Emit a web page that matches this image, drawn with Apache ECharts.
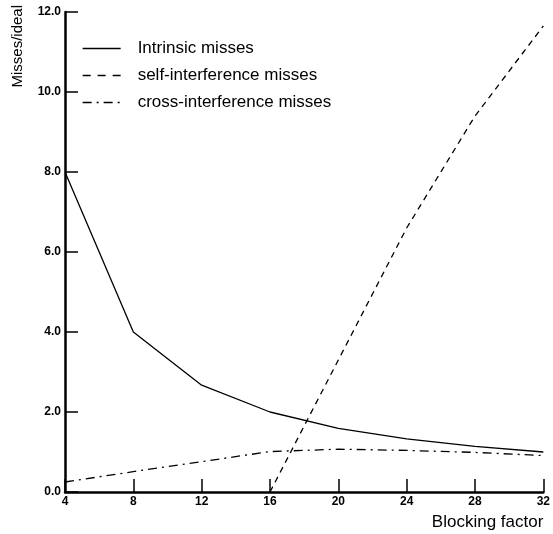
<!DOCTYPE html>
<html>
<head>
<meta charset="utf-8">
<script src="https://cdn.jsdelivr.net/npm/echarts@6/dist/echarts.min.js"></script>
<style>
  html, body { margin: 0; padding: 0; background: #fff; }
  #chart { width: 553px; height: 534px; }
</style>
</head>
<body>
<div id="chart"></div>
<script>
var blocking = [4, 8, 12, 16, 20, 24, 28, 32];
var intrinsic = [8.0, 4.0, 2.67, 2.0, 1.59, 1.33, 1.14, 1.0];
var selfInterf = [null, null, null, 0.0, 3.3, 6.6, 9.4, 11.65];
var crossInterf = [0.25, 0.51, 0.76, 1.01, 1.07, 1.04, 0.99, 0.91];

function pairs(xs, ys) {
    var out = [];
    for (var i = 0; i < xs.length; i++) {
        if (ys[i] !== null) out.push([xs[i], ys[i]]);
    }
    return out;
}

var font = 'Liberation Sans, Arial, sans-serif';

var option = {
    backgroundColor: '#fff',
    animation: false,
    textStyle: { fontFamily: font, color: '#000' },
    grid: { left: 65, right: 9, top: 12, bottom: 42 },
    legend: {
        left: 82,
        top: 40,
        padding: 0,
        orient: 'vertical',
        itemWidth: 38,
        itemHeight: 14,
        itemGap: 10,
        itemStyle: { opacity: 0 },
        lineStyle: { width: 1.3 },
        textStyle: { fontSize: 17, color: '#000', fontFamily: font, padding: [0, 0, 0, 12] },
        data: [
            'Intrinsic misses',
            { name: 'self-interference misses', lineStyle: { type: [8, 7], width: 1.3 } },
            'cross-interference misses'
        ]
    },
    xAxis: {
        type: 'value',
        min: 4,
        max: 32,
        interval: 4,
        name: 'Blocking factor',
        nameLocation: 'end',
        nameGap: 0,
        nameTextStyle: { fontSize: 17, color: '#000', align: 'right', verticalAlign: 'top', padding: [22, 0, 0, 0] },
        axisLine: { lineStyle: { color: '#000', width: 2.5 } },
        axisTick: { inside: true, length: 13, lineStyle: { color: '#000', width: 1.5 } },
        axisLabel: { color: '#000', fontWeight: 'bold', fontSize: 12, margin: 4 },
        splitLine: { show: false }
    },
    yAxis: {
        type: 'value',
        min: 0,
        max: 12,
        interval: 2,
        axisLine: { show: true, lineStyle: { color: '#000', width: 2.5 } },
        axisTick: { show: true, inside: true, length: 13, lineStyle: { color: '#000', width: 1.5 } },
        axisLabel: {
            color: '#000', fontWeight: 'bold', fontSize: 12, margin: 4,
            formatter: function (v) { return v.toFixed(1); }
        },
        splitLine: { show: false }
    },
    graphic: [{
        type: 'text',
        left: 10,
        top: 5,
        rotation: Math.PI / 2,
        style: { text: 'Misses/ideal', fontSize: 15, fill: '#000', fontFamily: font }
    }],
    series: [
        {
            name: 'Intrinsic misses',
            type: 'line',
            symbol: 'none',
            data: pairs(blocking, intrinsic),
            lineStyle: { color: '#000', width: 1.3, type: 'solid' },
            itemStyle: { color: '#000' }
        },
        {
            name: 'self-interference misses',
            type: 'line',
            symbol: 'none',
            data: pairs(blocking, selfInterf),
            lineStyle: { color: '#000', width: 1.3, type: [6, 5] },
            itemStyle: { color: '#000' }
        },
        {
            name: 'cross-interference misses',
            type: 'line',
            symbol: 'none',
            data: pairs(blocking, crossInterf),
            lineStyle: { color: '#000', width: 1.3, type: [9, 5, 2, 5] },
            itemStyle: { color: '#000' }
        }
    ]
};

var myChart = echarts.init(document.getElementById('chart'));
myChart.setOption(option);
</script>
</body>
</html>
